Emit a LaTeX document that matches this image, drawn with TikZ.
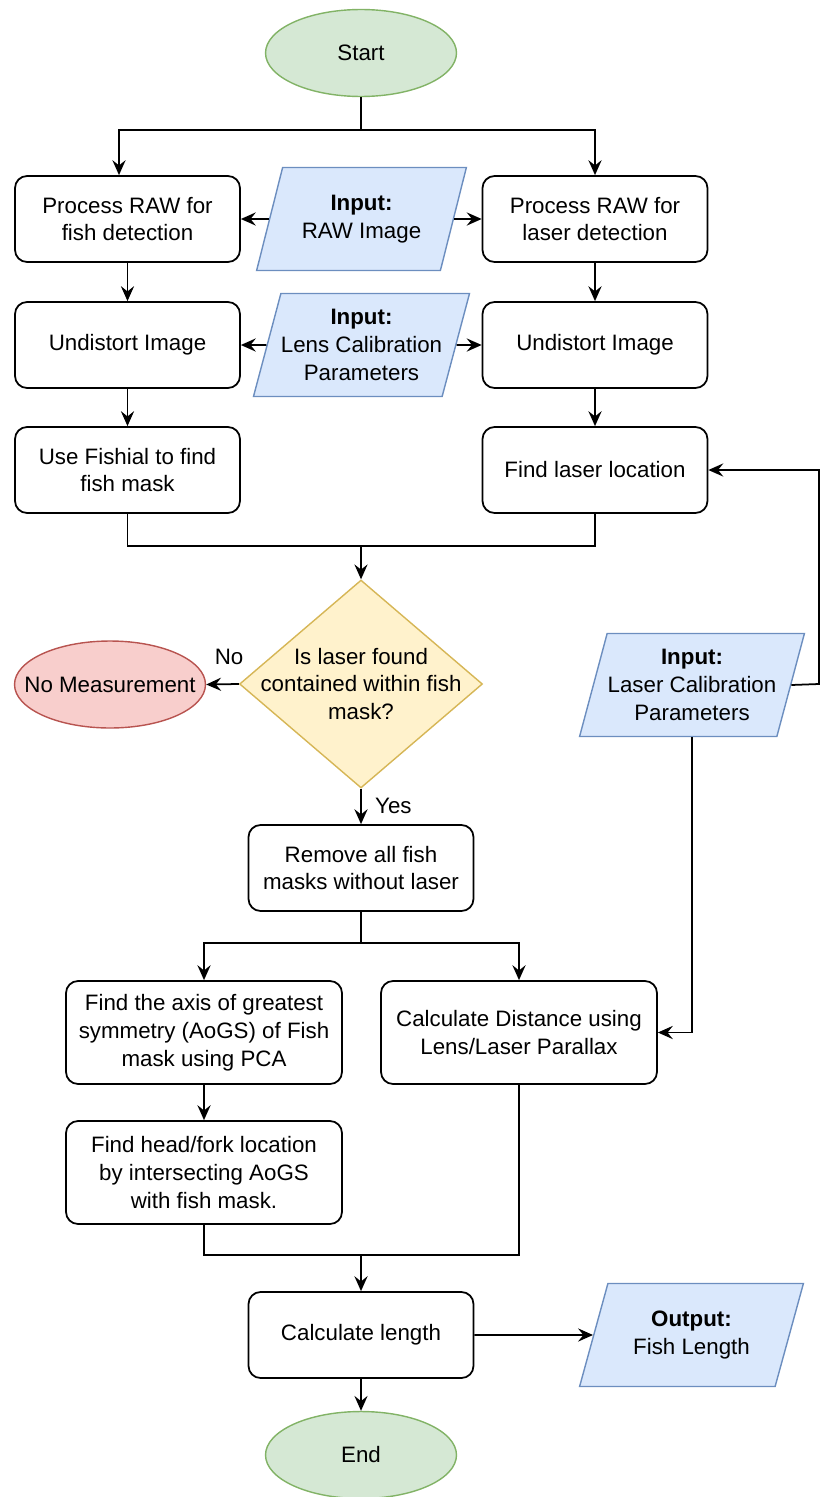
\documentclass[tikz,border=0pt]{standalone}
\usepackage{fontspec}
\setmainfont{Liberation Sans}
\usepackage{xcolor}
\usetikzlibrary{arrows,arrows.meta,shapes.geometric}

\definecolor{termfill}{HTML}{D5E8D4}
\definecolor{termdraw}{HTML}{82B366}
\definecolor{iofill}{HTML}{DAE8FC}
\definecolor{iodraw}{HTML}{6C8EBF}
\definecolor{decfill}{HTML}{FFF2CC}
\definecolor{decdraw}{HTML}{D6B656}
\definecolor{nofill}{HTML}{F8CECC}
\definecolor{nodraw}{HTML}{B85450}

\begin{document}
\begin{tikzpicture}[>={Stealth[length=8.5pt,width=7.5pt,inset=3pt]},->,x=0.02cm,y=-0.02cm,line width=1pt,
      font=\fontsize{12.7}{15.8}\selectfont,
      proc/.style={rectangle,rounded corners=0.24cm,draw,fill=white,align=center,
        minimum width=4.5cm,minimum height=1.72cm},
      bigproc/.style={proc,minimum width=5.52cm,minimum height=2.06cm},
      io/.style={trapezium,trapezium left angle=71.7,trapezium right angle=108.3,
        trapezium stretches=true,draw=iodraw,fill=iofill,line width=0.8pt,align=center,
        minimum width=4.22cm,minimum height=2.06cm,inner xsep=0pt},
      term/.style={ellipse,draw=termdraw,fill=termfill,line width=0.8pt,
        minimum width=3.82cm,minimum height=1.74cm,inner sep=0pt},
      nomeasure/.style={term,draw=nodraw,fill=nofill},
      decision/.style={diamond,draw=decdraw,fill=decfill,line width=0.8pt,
        minimum width=4.86cm,minimum height=4.16cm,inner sep=0pt}]
  \useasboundingbox (0,0) rectangle (820,1497);

  % top part
  \node[term] (start) at (361,53) {Start};
  \node[proc] (pfish) at (127.5,219) {Process RAW for\\fish detection};
  \node[io]   (rawin) at (361.5,219) {\textbf{Input:}\\RAW Image};
  \node[proc] (plaser) at (595,219) {Process RAW for\\laser detection};
  \node[proc] (ufish) at (127.5,345) {Undistort Image};
  \node[io]   (lensin) at (361.5,345) {\textbf{Input:}\\Lens Calibration\\Parameters};
  \node[proc] (ulaser) at (595,345) {Undistort Image};
  \node[proc] (fishial) at (127.5,470) {Use Fishial to find\\fish mask};
  \node[proc] (findlaser) at (595,470) {Find laser location};

  % decision
  \node[decision] (found) at (361,684) {};
  \node[align=center] (foundtxt) at (found) {Is laser found\\contained within fish\\mask?};
  \node[nomeasure] (nomeas) at (110,684.5) {\makebox[0pt]{No Measurement}};
  \node[io,minimum width=4.5cm] (lasercal) at (692,685) {\textbf{Input:}\\Laser Calibration\\Parameters};

  % bottom part
  \node[proc] (remove) at (361,868) {Remove all fish\\masks without laser};
  \node[bigproc] (axis) at (204,1032.5) {Find the axis of greatest\\symmetry (AoGS) of Fish\\mask using PCA};
  \node[bigproc] (dist) at (519,1032.5) {Calculate Distance using\\Lens/Laser Parallax};
  \node[bigproc] (head) at (204,1172.5) {Find head/fork location\\by intersecting AoGS\\with fish mask.};
  \node[proc] (calc) at (361,1335) {Calculate length};
  \node[io,minimum width=4.5cm] (outp) at (691.5,1335) {\textbf{Output:}\\Fish Length};
  \node[term] (finish) at (361,1455) {End};

  \coordinate (split1) at (361,130);
  \coordinate (merge1) at (361,546);
  \coordinate (split2) at (361,943);
  \coordinate (merge2) at (361,1255);
  \coordinate (edgeturn) at (819,684);

  \draw[-] (start) -- (split1);
  \draw (split1) -| ([xshift=-0.17cm]pfish.north);
  \draw (split1) -| (plaser.north);
  \draw (rawin) -- (pfish);
  \draw (rawin) -- (plaser);
  \draw (pfish) -- (ufish);
  \draw (plaser) -- (ulaser);
  \draw (lensin) -- (ufish);
  \draw (lensin) -- (ulaser);
  \draw (ufish) -- (fishial);
  \draw (ulaser) -- (findlaser);
  \draw[-] (fishial.south) |- (merge1) -| (findlaser.south);
  \draw (merge1) -- (found.north);
  \draw (found.west) -- node[above=0.25cm,pos=0.3] {No} (nomeas.east);
  \draw (found.south) -- node[right=0.15cm] {Yes} (remove.north);
  \draw (lasercal.east) -- (edgeturn) |- (findlaser.east);
  \draw (lasercal.south) |- (dist.east);
  \draw[-] (remove) -- (split2);
  \draw (split2) -| (axis.north);
  \draw (split2) -| (dist.north);
  \draw (axis) -- (head);
  \draw[-] (head.south) |- (merge2) -| (dist.south);
  \draw (merge2) -- (calc.north);
  \draw (calc) -- (outp);
  \draw (calc) -- (finish);
\end{tikzpicture}
\end{document}
